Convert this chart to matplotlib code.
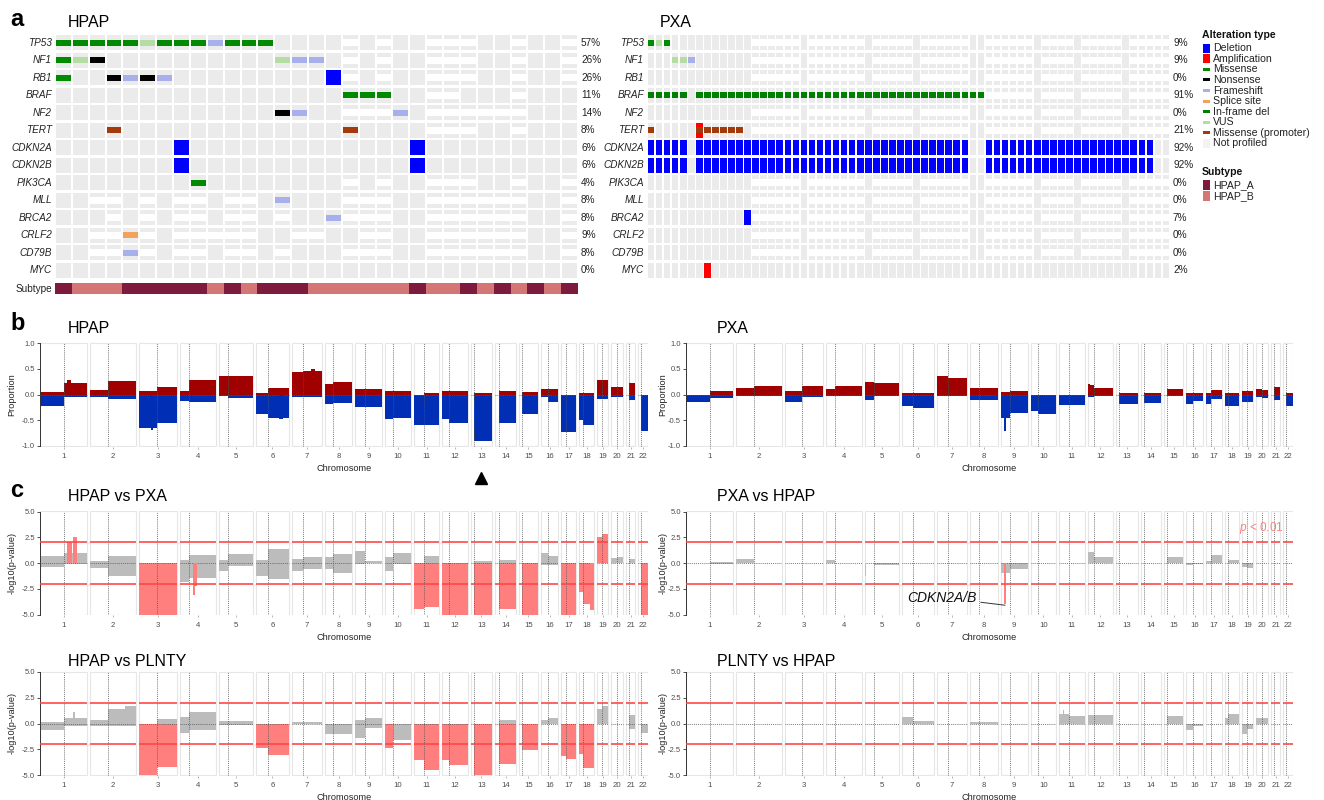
import matplotlib
matplotlib.use("Agg")
import matplotlib.pyplot as plt
from matplotlib.patches import Rectangle

plt.rcParams['font.family'] = ['Liberation Sans', 'DejaVu Sans']
plt.rcParams['mathtext.fontset'] = 'custom'
plt.rcParams['mathtext.rm'] = 'Liberation Sans'
plt.rcParams['mathtext.it'] = 'Liberation Sans:italic'

# ============================ DATA ============================
genes = ["TP53", "NF1", "RB1", "BRAF", "NF2", "TERT", "CDKN2A", "CDKN2B",
         "PIK3CA", "MLL", "BRCA2", "CRLF2", "CD79B", "MYC"]
hpap_pct = ["57%", "26%", "26%", "11%", "14%", "8%", "6%", "6%", "4%", "8%", "8%", "9%", "8%", "0%"]
pxa_pct = ["9%", "9%", "0%", "91%", "0%", "21%", "92%", "92%", "0%", "0%", "7%", "0%", "0%", "2%"]

# HPAP: one character per sample (31 samples)
# M missense, N nonsense, F frameshift, S splice, I in-frame del, V VUS,
# P missense (promoter), D deletion, A amplification, - not profiled, . none
hpap_alterations = {
    "TP53":   "MMMMMVMMMFMMM....-.-..---..-..-",
    "NF1":    "MVN..........VFF.-.-..---..-..-",
    "RB1":    "M..NFNF.........D-.-..---..-..-",
    "BRAF":   ".................MMM..--...-...",
    "NF2":    ".............NF..---F.------...",
    "TERT":   "...P.............P....---..-...",
    "CDKN2A": ".......D.............D.........",
    "CDKN2B": ".......D.............D.........",
    "PIK3CA": "........M........-.-..---..-..-",
    "MLL":    "..--.-.--.--.F...---..------..-",
    "BRCA2":  "...-.-.--.--.-..F---..------..-",
    "CRLF2":  "..--S-.-----..--..--..------..-",
    "CD79B":  "..--F-.--.--.-...---..------..-",
    "MYC":    "...............................",
}
hpap_subtype = "ABBBAAAAABABAAABBBBBBABBABABABA"

# PXA: 65 samples, runs of (first sample, last sample, type)
pxa_n = 65
pxa_runs = {
    "TP53": [(0, 0, 'M'), (1, 1, 'V'), (2, 2, 'M')],
    "NF1": [(3, 4, 'V'), (5, 5, 'F')],
    "BRAF": [(0, 4, 'I'), (6, 41, 'I')],
    "TERT": [(0, 0, 'P'), (6, 6, 'A'), (6, 11, 'P')],
    "CDKN2A": [(0, 4, 'D'), (6, 39, 'D'), (42, 62, 'D')],
    "CDKN2B": [(0, 4, 'D'), (6, 39, 'D'), (42, 62, 'D')],
    "BRCA2": [(12, 12, 'D')],
    "MYC": [(7, 7, 'A')],
}
pxa_np_small_panel = [(13, 18), (20, 26), (28, 32), (34, 39), (42, 47), (49, 52), (54, 58), (60, 64)]
pxa_np_braf = [(42, 47), (49, 52), (54, 58), (60, 64)]
pxa_np_genes = ["TP53", "NF1", "RB1", "NF2", "TERT", "PIK3CA", "MLL", "BRCA2", "CRLF2", "CD79B"]

legend_alt = [("Deletion", 'D'), ("Amplification", 'A'), ("Missense", 'M'), ("Nonsense", 'N'),
              ("Frameshift", 'F'), ("Splice site", 'S'), ("In-frame del", 'I'), ("VUS", 'V'),
              ("Missense (promoter)", 'P'), ("Not profiled", '-')]
legend_subtype = [("HPAP_A", 'A'), ("HPAP_B", 'B')]

# chromosomes (hg19, Mb)
chrom_names = ["1", "2", "3", "4", "5", "6", "7", "8", "9", "10", "11",
               "12", "13", "14", "15", "16", "17", "18", "19", "20", "21", "22"]
chrom_len_mb = [249.3, 243.2, 198.0, 191.2, 180.9, 171.1, 159.1, 146.4, 141.2, 135.5, 135.0,
                133.9, 115.2, 107.3, 102.5, 90.4, 81.2, 78.1, 59.1, 63.0, 48.1, 51.3]
centromere_mb = [125.0, 93.3, 91.0, 50.4, 48.4, 61.0, 59.9, 45.6, 49.0, 40.2, 53.7,
                 35.8, 17.9, 17.6, 19.0, 36.6, 24.0, 17.2, 26.5, 27.5, 13.2, 14.7]

# panel b: proportion of samples with gain (+) / loss (-), per arm
hpap_gain_p = [0.05, 0.08, 0.07, 0.06, 0.36, 0.03, 0.44, 0.20, 0.11, 0.07, 0.00, 0.06, 0, 0, 0, 0.11, 0.00, 0.03, 0.28, 0.15, 0, 0]
hpap_gain_q = [0.22, 0.27, 0.15, 0.28, 0.35, 0.13, 0.45, 0.25, 0.10, 0.07, 0.03, 0.06, 0.03, 0.06, 0.04, 0.10, 0.00, 0.03, 0.28, 0.15, 0.23, 0.00]
hpap_loss_p = [-0.22, -0.05, -0.65, -0.12, -0.03, -0.38, -0.05, -0.18, -0.25, -0.48, -0.60, -0.48, 0, 0, 0, -0.05, -0.72, -0.50, -0.08, -0.05, 0, 0]
hpap_loss_q = [-0.05, -0.08, -0.56, -0.15, -0.07, -0.45, -0.05, -0.17, -0.24, -0.45, -0.60, -0.55, -0.90, -0.55, -0.38, -0.15, -0.72, -0.60, -0.08, -0.05, -0.10, -0.70]
hpap_cnv_focal = [(1, 143, 165, 0.28), (3, 60, 75, -0.68), (6, 120, 140, -0.48), (7, 100, 125, 0.50)]

pxa_gain_p = [0.00, 0.12, 0.07, 0.10, 0.25, 0.03, 0.35, 0.12, 0.05, 0.00, 0.00, 0.18, 0, 0, 0, 0.02, 0.03, 0.03, 0.06, 0.11, 0, 0]
pxa_gain_q = [0.07, 0.17, 0.17, 0.17, 0.22, 0.03, 0.33, 0.12, 0.07, 0.00, 0.00, 0.13, 0.02, 0.02, 0.10, 0.02, 0.08, 0.03, 0.06, 0.09, 0.15, 0.02]
pxa_loss_p = [-0.15, -0.02, -0.15, -0.03, -0.10, -0.22, -0.03, -0.10, -0.45, -0.32, -0.20, -0.05, 0, 0, 0, -0.18, -0.18, -0.22, -0.15, -0.05, 0, 0]
pxa_loss_q = [-0.07, -0.02, -0.05, -0.03, -0.03, -0.27, -0.03, -0.10, -0.35, -0.38, -0.20, -0.02, -0.18, -0.17, -0.03, -0.13, -0.08, -0.22, -0.15, -0.06, -0.10, -0.22]
pxa_cnv_focal = [(9, 19, 25, -0.70), (12, 0, 12, 0.21)]

# panel c: -log10(p) for gains (+) and losses (-), per arm
hpap_pxa_up_p = [0.7, 0.2, 0.0, 0.3, 0.3, 0.3, 0.4, 0.6, 1.2, 0.6, 0.0, 0.0, 0, 0, 0, 1.0, 0.0, 0.0, 2.5, 0.5, 0, 0]
hpap_pxa_up_q = [1.0, 0.65, 0.0, 0.8, 0.9, 1.4, 0.6, 0.9, 0.15, 1.0, 0.7, 0.0, 0.2, 0.3, 0.0, 0.7, 0.0, 0.0, 2.8, 0.6, 0.4, 0.0]
hpap_pxa_dn_p = [-0.4, -0.5, -5.0, -1.8, -0.8, -1.3, -0.8, -0.6, -0.1, -0.8, -4.5, -5.0, 0, 0, 0, -0.2, -5.0, -2.8, 0, 0, 0, 0]
hpap_pxa_dn_q = [-0.1, -1.3, -5.0, -1.5, -0.3, -1.6, -0.6, -1.0, 0.0, -0.1, -4.3, -5.0, -5.0, -4.5, -5.0, -0.2, -5.0, -4.0, 0, 0, 0, -5.0]
hpap_pxa_focal = [(1, 145, 170, 2.0), (1, 172, 195, 2.5), (4, 72, 80, -3.1), (4, 80, 92, -2.2), (18, 55, 78, -4.6)]

pxa_hpap_up_p = [0.0, 0.35, 0, 0.25, 0, 0, 0, 0, 0, 0, 0, 1.1, 0, 0, 0, 0, 0.2, 0.0, 0, 0, 0, 0]
pxa_hpap_up_q = [0.05, 0.0, 0, 0.0, 0, 0, 0, 0, 0, 0, 0, 0.55, 0, 0, 0.6, 0, 0.8, 0.3, 0, 0, 0, 0]
pxa_hpap_dn_p = [0, 0, 0, 0, 0, 0, 0, 0, -1.0, 0, 0, 0, 0, 0, 0, -0.15, 0, 0, -0.4, 0, 0, 0]
pxa_hpap_dn_q = [-0.1, 0, 0, 0, -0.2, 0, 0, 0, -0.6, 0, 0, 0, 0, 0, 0, -0.05, 0, 0, -0.45, 0, 0, 0]
pxa_hpap_focal = [(5, 1, 8, -1.3), (9, 19, 26, -4.0)]

hpap_plnty_up_p = [0.1, 0.3, 0.0, 0.6, 0.2, 0.0, 0.1, 0.0, 0.3, 0.0, 0.0, 0.0, 0, 0, 0, 0.3, 0.0, 0.0, 1.4, 0.0, 0, 0]
hpap_plnty_up_q = [0.5, 1.4, 0.4, 1.1, 0.2, 0.0, 0.1, 0.0, 0.5, 0.0, 0.0, 0.0, 0.0, 0.3, 0.0, 0.5, 0.0, 0.0, 1.7, 0.0, 0.8, 0.0]
hpap_plnty_dn_p = [-0.6, -0.2, -5.0, -0.9, -0.1, -2.4, 0.0, -1.0, -1.4, -2.4, -3.5, -3.5, 0, 0, 0, 0.0, -3.2, -3.0, 0.0, 0.0, 0, 0]
hpap_plnty_dn_q = [-0.2, -0.2, -4.2, -0.6, -0.1, -3.1, 0.0, -1.0, -0.4, -1.6, -4.5, -4.0, -5.0, -3.9, -2.6, 0.0, -3.4, -4.3, 0.0, 0.0, -0.5, -0.9]
hpap_plnty_focal = [(1, 175, 185, 1.1), (2, 185, 240, 1.7), (7, 1, 4, 0.9)]

plnty_hpap_up_p = [0, 0, 0, 0, 0, 0.6, 0, 0.1, 0, 0, 0.9, 0.8, 0, 0, 0, 0, 0, 0.5, 0, 0.5, 0, 0]
plnty_hpap_up_q = [0, 0, 0, 0, 0, 0.2, 0, 0.1, 0, 0, 0.75, 0.8, 0, 0, 0.7, 0, 0, 0.9, 0, 0.5, 0, 0]
plnty_hpap_dn_p = [0, 0, 0, 0, 0, 0, 0, 0, 0, 0, 0, 0, 0, 0, 0, -0.6, 0, 0, -1.0, 0, 0, 0]
plnty_hpap_dn_q = [0, 0, 0, 0, 0, 0, 0, 0, 0, 0, 0, 0, 0, 0, 0, -0.2, 0, 0, -0.5, 0, 0, 0]
plnty_hpap_focal = [(7, 55, 60, -0.5), (11, 20, 28, 1.3)]

# ============================ STYLE ============================
W, H = 1324, 800
fig = plt.figure(figsize=(W / 100, H / 100), dpi=100)

BG = '#ebebeb'
type_colors = {'M': '#008a00', 'N': '#000000', 'F': '#a7b0ea', 'S': '#f2a25a', 'I': '#008000',
               'V': '#b5dca2', 'P': '#a33a0c', 'D': '#0000ff', 'A': '#ff0000', '-': '#f3f3f3'}
subtype_colors = {'A': '#7d1a3d', 'B': '#d47676'}
GAIN_C, LOSS_C = '#a10000', '#002fb5'
SIG_C, NS_C = '#ff7f7f', '#bcbcbc'
TXT = '#4d4d4d'


def box(x0, y0, x1, y1):
    return [x0 / W, 1 - y1 / H, (x1 - x0) / W, (y1 - y0) / H]


def ftext(x, y, s, **kw):
    fig.text(x / W, 1 - y / H, s, **kw)


# ============================ PANEL a ============================
def draw_oncoprint(x0, x1, ncol, cell_w, cells, pct, subtype=None):
    ax = fig.add_axes(box(x0, 34, x1, 294.5))
    ax.set_xlim(-0.5, ncol - 0.5)
    ax.set_ylim(14.886, 0)
    ax.axis('off')
    cols = list(range(ncol))
    for r in range(len(genes)):
        ax.bar(cols, 0.88, bottom=r + 0.06, width=cell_w, color=BG, linewidth=0)
    np_c = [c for (r, c, t) in cells if t == '-']
    np_r = [r + 0.31 for (r, c, t) in cells if t == '-']
    ax.bar(np_c, 0.38, bottom=np_r, width=1.0, color='white', linewidth=0)
    for t in ['D', 'A']:
        cc = [c for (r, c, tt) in cells if tt == t]
        rr = [r + 0.06 for (r, c, tt) in cells if tt == t]
        ax.bar(cc, 0.88, bottom=rr, width=cell_w, color=type_colors[t], linewidth=0)
    for t in ['M', 'N', 'F', 'S', 'I', 'V', 'P']:
        cc = [c for (r, c, tt) in cells if tt == t]
        rr = [r + 0.335 for (r, c, tt) in cells if tt == t]
        ax.bar(cc, 0.33, bottom=rr, width=cell_w, color=type_colors[t], linewidth=0)
    tr = ax.get_yaxis_transform()
    for r, g in enumerate(genes):
        ax.text(-3.0 / (x1 - x0), r + 0.5, g, transform=tr, ha='right', va='center',
                fontsize=7.2, style='italic', color='#222222')
        ax.text(1 + 3.0 / (x1 - x0), r + 0.5, pct[r], transform=tr, ha='left', va='center',
                fontsize=7.2, color='#222222')
    if subtype is not None:
        for key in ['A', 'B']:
            cc = [c for c, s in enumerate(subtype) if s == key]
            ax.bar(cc, 0.63, bottom=14.23, width=1.0, color=subtype_colors[key], linewidth=0)
        ax.text(-3.0 / (x1 - x0), 14.545, "Subtype", transform=tr, ha='right', va='center',
                fontsize=7.2, color='#222222')
    return ax


hpap_cells = [(r, c, ch) for r, g in enumerate(genes)
              for c, ch in enumerate(hpap_alterations[g]) if ch != '.']
pxa_cells = []
for r, g in enumerate(genes):
    np_runs = pxa_np_small_panel if g in pxa_np_genes else (pxa_np_braf if g == "BRAF" else [])
    for (a, b) in np_runs:
        for c in range(a, b + 1):
            pxa_cells.append((r, c, '-'))
    for (a, b, t) in pxa_runs.get(g, []):
        for c in range(a, b + 1):
            pxa_cells.append((r, c, t))

draw_oncoprint(55, 578, len(hpap_subtype), 0.88, hpap_cells, hpap_pct, hpap_subtype)
draw_oncoprint(647, 1170, pxa_n, 0.82, pxa_cells, pxa_pct)

# legend
lax = fig.add_axes(box(1198, 25, 1324, 205))
lax.set_xlim(1198, 1324)
lax.set_ylim(205, 25)
lax.axis('off')
lax.text(1202, 35, "Alteration type", fontsize=7.6, fontweight='bold', va='center', color='#111111')
for i, (name, t) in enumerate(legend_alt):
    y = 48.3 + i * 10.55
    h = 9 if t in ('D', 'A', '-') else 3
    lax.add_patch(Rectangle((1203, y - h / 2), 7, h, fc=type_colors[t], ec='none'))
    lax.text(1213, y, name, fontsize=7.6, va='center', color='#222222')
lax.text(1202, 172, "Subtype", fontsize=7.6, fontweight='bold', va='center', color='#111111')
for i, (name, k) in enumerate(legend_subtype):
    y = 185 + i * 10.7
    lax.add_patch(Rectangle((1203, y - 5), 7, 10, fc=subtype_colors[k], ec='none'))
    lax.text(1213, y, name, fontsize=7.6, va='center', color='#222222')

# ============================ GENOME PANELS ============================
GAP = 15.5
starts = []
acc = 0.0
for L in chrom_len_mb:
    starts.append(acc)
    acc += L + GAP
genome_total = acc - GAP
mids = [s + L / 2 for s, L in zip(starts, chrom_len_mb)]


def genome_axes(x0, ytop, x1, ybot, up_p, up_q, dn_p, dn_q, focal, kind):
    lim = 1.0 if kind == 'cnv' else 5.0
    pad = 0.015
    dy = (ybot - ytop) * pad / 2
    ax = fig.add_axes(box(x0, ytop - dy, x1, ybot + dy))
    ax.set_xlim(0, genome_total)
    ax.set_ylim(-lim * (1 + pad), lim * (1 + pad))

    def colr(v):
        if kind == 'cnv':
            return GAIN_C if v > 0 else LOSS_C
        return SIG_C if abs(v) >= 2 else NS_C

    def clip(v):
        return max(-lim, min(lim, v))

    for i in range(22):
        s, L, c = starts[i], chrom_len_mb[i], centromere_mb[i]
        ax.add_patch(Rectangle((s, -lim * 1.005), L, lim * 2.01, fc='white', ec='#e6e6e6',
                               lw=0.8, zorder=0))
    xs_p = starts
    w_p = centromere_mb
    xs_q = [s + c for s, c in zip(starts, centromere_mb)]
    w_q = [L - c for L, c in zip(chrom_len_mb, centromere_mb)]
    for xs, ws, vals in [(xs_p, w_p, up_p), (xs_q, w_q, up_q), (xs_p, w_p, dn_p), (xs_q, w_q, dn_q)]:
        v = [clip(a) for a in vals]
        ax.bar(xs, v, width=ws, align='edge', color=[colr(a if a != 0 else 1) for a in vals],
               linewidth=0, zorder=2)
    for (ch, a, b, v) in focal:
        ax.bar([starts[ch - 1] + a], [clip(v)], width=b - a, align='edge', color=colr(v),
               linewidth=0, zorder=3.5)
    for i in range(22):
        s, L, c = starts[i], chrom_len_mb[i], centromere_mb[i]
        ax.vlines(s + c, -lim, lim, colors='#555555', linestyles=(0, (1, 1.3)), lw=0.6, zorder=3)
        ax.hlines(0, s, s + L, colors='#555555', linestyles=(0, (1, 1.3)), lw=0.6, zorder=3)
        if kind != 'cnv':
            ax.hlines([2, -2], s, s + L, colors='#ff4545', lw=1.3, alpha=0.9, zorder=4)
    for sp in ['top', 'right', 'bottom']:
        ax.spines[sp].set_visible(False)
    ax.spines['left'].set_color('#333333')
    ax.spines['left'].set_linewidth(0.7)
    ax.spines['left'].set_bounds(-lim, lim)
    if kind == 'cnv':
        yt = [1.0, 0.5, 0.0, -0.5, -1.0]
        ylab = ["1.0", "0.5", "0.0", "-0.5", "-1.0"]
    else:
        yt = [5.0, 2.5, 0.0, -2.5, -5.0]
        ylab = ["5.0", "2.5", "0.0", "-2.5", "-5.0"]
    ax.set_yticks(yt)
    ax.set_yticklabels(ylab, fontsize=5.5, color=TXT)
    ax.tick_params(axis='y', length=2, width=0.6, color='#333333', pad=1.5)
    ax.set_xticks(mids)
    ax.set_xticklabels(chrom_names, fontsize=5.6, color=TXT)
    ax.tick_params(axis='x', length=1.5, width=0.5, color='#999999', pad=3)
    ax.set_xlabel("Chromosome", fontsize=6.6, color='#222222', labelpad=3)
    return ax


bL = genome_axes(40, 343, 648, 446, hpap_gain_p, hpap_gain_q, hpap_loss_p, hpap_loss_q,
                 hpap_cnv_focal, 'cnv')
bR = genome_axes(686, 343, 1293, 446, pxa_gain_p, pxa_gain_q, pxa_loss_p, pxa_loss_q,
                 pxa_cnv_focal, 'cnv')
c1 = genome_axes(40, 511.5, 648, 614.5, hpap_pxa_up_p, hpap_pxa_up_q, hpap_pxa_dn_p, hpap_pxa_dn_q,
                 hpap_pxa_focal, 'p')
c2 = genome_axes(686, 511.5, 1293, 614.5, pxa_hpap_up_p, pxa_hpap_up_q, pxa_hpap_dn_p, pxa_hpap_dn_q,
                 pxa_hpap_focal, 'p')
c3 = genome_axes(40, 672, 648, 775, hpap_plnty_up_p, hpap_plnty_up_q, hpap_plnty_dn_p, hpap_plnty_dn_q,
                 hpap_plnty_focal, 'p')
c4 = genome_axes(686, 672, 1293, 775, plnty_hpap_up_p, plnty_hpap_up_q, plnty_hpap_dn_p, plnty_hpap_dn_q,
                 plnty_hpap_focal, 'p')

# arrow under chromosome 13
bL.plot([mids[12]], [-1.62], marker='^', ms=9, color='black', clip_on=False)

# CDKN2A/B annotation
x9 = starts[8] + 22
c2.annotate("CDKN2A/B", xy=(x9, -4.1), xytext=(x9 - 150, -3.35), ha='right', va='center',
            fontsize=10, style='italic', color='#111111',
            arrowprops=dict(arrowstyle='-', lw=0.7, color='#333333', shrinkA=1, shrinkB=0))
c2.text(0.985, 3.4, r"$\it{p}$ < 0.01", transform=c2.get_yaxis_transform(), ha='right',
        va='center', fontsize=8.5, color='#ff8080')

# y labels
for (x, yc, s) in [(12, 394.5, "Proportion"), (663, 394.5, "Proportion"),
                   (12, 563, "-log10(p-value)"), (663, 563, "-log10(p-value)"),
                   (12, 723.5, "-log10(p-value)"), (663, 723.5, "-log10(p-value)")]:
    ftext(x, yc, s, rotation=90, ha='center', va='center', fontsize=6.6, color='#222222')

# titles and panel letters
ftext(10, 26, "a", fontsize=17, fontweight='bold', va='baseline')
ftext(10, 330, "b", fontsize=17, fontweight='bold', va='baseline')
ftext(10, 497, "c", fontsize=17, fontweight='bold', va='baseline')
ftext(68, 27, "HPAP", fontsize=11.5, va='baseline')
ftext(660, 27, "PXA", fontsize=11.5, va='baseline')
ftext(68, 333, "HPAP", fontsize=11.5, va='baseline')
ftext(717, 333, "PXA", fontsize=11.5, va='baseline')
ftext(68, 501, "HPAP vs PXA", fontsize=11.5, va='baseline')
ftext(717, 501, "PXA vs HPAP", fontsize=11.5, va='baseline')
ftext(68, 666, "HPAP vs PLNTY", fontsize=11.5, va='baseline')
ftext(717, 666, "PLNTY vs HPAP", fontsize=11.5, va='baseline')

fig.savefig("out.png", dpi=100)
